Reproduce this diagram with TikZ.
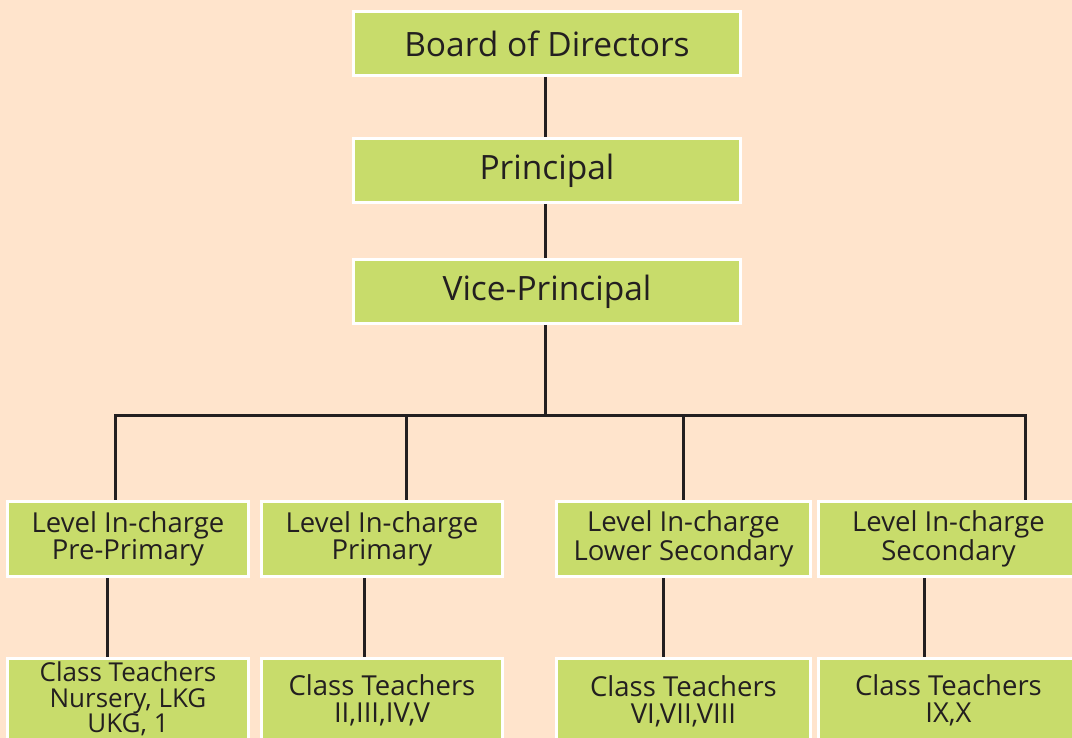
\documentclass[tikz,border=0pt]{standalone}
\usepackage{fontspec}
\setmainfont{Open Sans}
\usetikzlibrary{positioning,calc}
\definecolor{bgpeach}{HTML}{FFE4CC}
\definecolor{boxgreen}{HTML}{C8DC6B}
\definecolor{inkline}{HTML}{231F20}
\tikzset{
	orgbox/.style={draw=white,line width=3pt,fill=boxgreen,text=inkline,align=center},
	topbox/.style={orgbox,minimum width=387pt,minimum height=64pt,font=\fontsize{33.5}{36}\selectfont},
	levbox/.style={orgbox,minimum height=75pt,inner xsep=0pt,inner ysep=0pt,font=\fontsize{27.5}{27}\selectfont},
	clsbox/.style={orgbox,anchor=north,inner xsep=0pt,font=\fontsize{27.5}{27}\selectfont},
	link/.style={draw=inkline,line width=3pt}
}
\begin{document}
\begin{tikzpicture}[x=1pt,y=-1pt]
		\fill[bgpeach] (0,0) rectangle (1072,738);
		\useasboundingbox (0,0) rectangle (1072,738);
		\clip (0,0) rectangle (1072,738);
		% top of the chart
		\node[topbox] (board) at (547,43.5) {Board of Directors};
		\node[topbox] (prin) at (547,170.5) {Principal};
		\node[topbox] (vice) at (547,291.5) {Vice-Principal};
		% level in-charge row
		\node[levbox,minimum width=241pt] (lev1) at (128,539) {Level In-charge\\Pre-Primary};
		\node[levbox,minimum width=241pt] (lev2) at (382,539) {Level In-charge\\Primary};
		\node[levbox,minimum width=254pt] (lev3) at (683.5,539) {Level In-charge\\Lower Secondary};
		\node[levbox,minimum width=260pt] (lev4) at (948.5,539) {Level In-charge\\Secondary};
		% class teachers row
		\node[clsbox,minimum width=241pt,inner ysep=4pt,font=\fontsize{26}{25.5}\selectfont] (cls1) at (128,656.5) {Class Teachers\\Nursery, LKG\\UKG, 1};
		\node[clsbox,minimum width=241pt,inner ysep=17pt] (cls2) at (382,656.5) {Class Teachers\\II,III,IV,V};
		\node[clsbox,minimum width=254pt,inner ysep=18pt] (cls3) at (683.5,656.5) {Class Teachers\\VI,VII,VIII};
		\node[clsbox,minimum width=260pt,inner ysep=17pt] (cls4) at (948.5,656.5) {Class Teachers\\IX,X};
		% connectors
		\coordinate (bus) at (545,415);
		\coordinate (j1) at (115,415);
		\coordinate (j2) at (406,415);
		\coordinate (j3) at (683,415);
		\coordinate (j4) at (1025,415);
		\draw[link] (board.south -| bus) -- (prin.north -| bus);
		\draw[link] (prin.south -| bus) -- (vice.north -| bus);
		\draw[link] (vice.south -| bus) -- (bus);
		\draw[link,line cap=rect] (j1) -- (j4);
		\foreach \i in {1,...,4}
			\draw[link] (j\i) -- (j\i |- lev\i.north);
		\foreach \i/\dx in {1/-21,2/-18,3/-20.5,4/-24.5}
			\draw[link] ([xshift=\dx pt]lev\i.south) -- ([xshift=\dx pt]cls\i.north);
\end{tikzpicture}
\end{document}
